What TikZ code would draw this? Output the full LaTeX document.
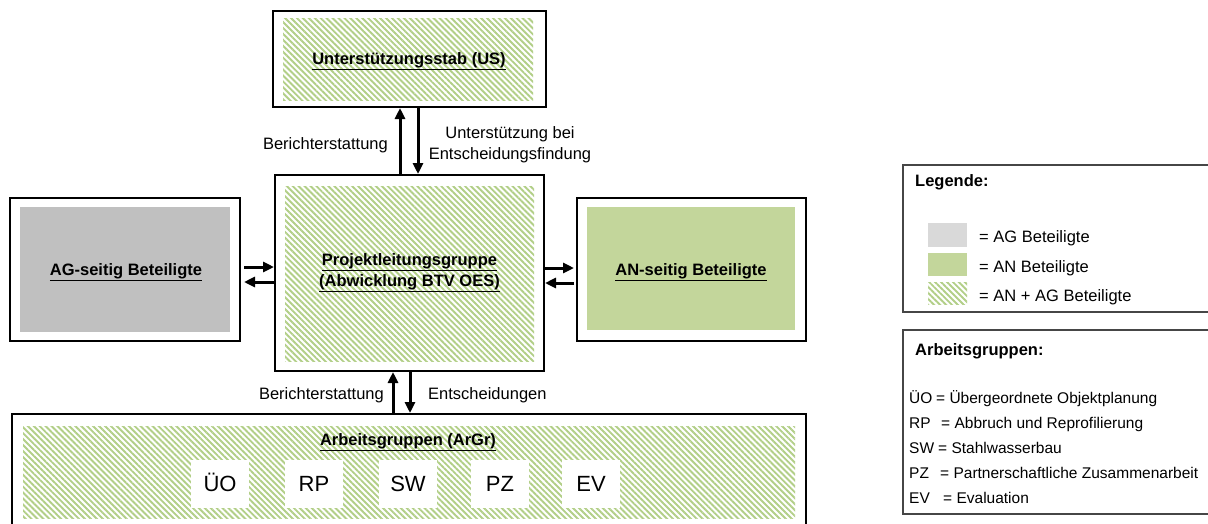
\documentclass[tikz,border=0pt]{standalone}
\usepackage{fontspec}
\setmainfont{Liberation Sans}
\usetikzlibrary{patterns.meta,arrows.meta,calc}
\definecolor{hatchgreen}{RGB}{178,207,135}
\definecolor{solidgreen}{RGB}{195,214,155}
\definecolor{aggrey}{RGB}{192,192,192}
\definecolor{leggrey}{RGB}{217,217,217}
\definecolor{legline}{RGB}{70,70,70}
\tikzset{
  outerbox/.style={draw=black, line width=2pt, fill=white, inner sep=0pt},
  hatchbox/.style={pattern={Lines[angle=-45,distance=4.2pt,line width=1.9pt]}, pattern color=hatchgreen, inner sep=0pt},
  greybox/.style={fill=aggrey, inner sep=0pt},
  greenbox/.style={fill=solidgreen, inner sep=0pt},
  legbox/.style={draw=legline, line width=1.3pt, fill=white, inner sep=0pt},
  whitebox/.style={fill=white, inner sep=0pt, minimum width=58pt, minimum height=48pt, text height=15.8pt, text depth=0pt, font=\fontsize{22}{26}\selectfont},
  title/.style={font=\fontsize{16.5}{21}\selectfont\bfseries, align=center, inner sep=0pt},
  lbl/.style={font=\fontsize{16.5}{21}\selectfont, align=center, inner sep=0pt},
  slbl/.style={font=\fontsize{15.5}{19}\selectfont, inner sep=0pt, text height=11.1pt, text depth=0pt},
  arr/.style={line width=3pt, -{Triangle[length=11pt,width=10pt]}},
}
\begin{document}
\begin{tikzpicture}[x=1pt,y=-1pt]
\useasboundingbox (0,0) rectangle (1208,523);
% Unterstuetzungsstab
\node[outerbox, minimum width=273pt, minimum height=96pt] (us) at (409.5,59) {};
\node[hatchbox, minimum width=250pt, minimum height=82pt] (usin) at (408,59) {};
\node[title] (ust) at (409,61) {\underline{Unterst\"utzungsstab (US)}};
% Projektleitungsgruppe
\node[outerbox, minimum width=269pt, minimum height=196pt] (cen) at (409.5,273) {};
\node[hatchbox, minimum width=249pt, minimum height=175pt] (cenin) at (409.5,273.5) {};
\node[title] (cent) at (409.5,273) {\underline{Projektleitungsgruppe}\\\underline{(Abwicklung BTV OES)}};
% AG
\node[outerbox, minimum width=230pt, minimum height=143pt] (ag) at (125,269.5) {};
\node[greybox, minimum width=210pt, minimum height=125pt] (agin) at (125,269.5) {};
\node[title] (agt) at (126,272) {\underline{AG-seitig Beteiligte}};
% AN
\node[outerbox, minimum width=229pt, minimum height=143pt] (an) at (691.5,269.5) {};
\node[greenbox, minimum width=208pt, minimum height=123pt] (anin) at (691,268.5) {};
\node[title] (ant) at (691,272) {\underline{AN-seitig Beteiligte}};
% Arbeitsgruppen
\node[outerbox, minimum width=794pt, minimum height=116pt] (ar) at (409,472) {};
\node[hatchbox, minimum width=772pt, minimum height=92pt] (arin) at (409,472) {};
\node[title] (art) at (408,442) {\underline{Arbeitsgruppen (ArGr)}};
\node[whitebox] (uo) at (220,484) {\"UO};
\node[whitebox] (rp) at (314,484) {RP};
\node[whitebox] (sw) at (408,484) {SW};
\node[whitebox] (pz) at (500,484) {PZ};
\node[whitebox] (ev) at (591,484) {EV};
% arrows US <-> center
\draw[arr] ([xshift=-9.5pt]cen.north) -- ([xshift=-9.5pt]us.south);
\draw[arr] ([xshift=8.5pt]us.south) -- ([xshift=8.5pt]cen.north);
\node[lbl, anchor=east] (l1) at (388,145) {Berichterstattung};
\node[lbl] (l2) at (510,145) {Unterst\"utzung bei\\Entscheidungsfindung};
% arrows AG <-> center
\coordinate (r1) at ([yshift=6pt]cen.west);
\coordinate (r2) at ([yshift=-9pt]cen.west);
\draw[arr, shorten <=3pt] (ag.east |- r1) -- (r1);
\draw[arr, shorten >=3pt] (r2) -- (ag.east |- r2);
% arrows center <-> AN
\coordinate (s1) at ([yshift=5pt]cen.east);
\coordinate (s2) at ([yshift=-10pt]cen.east);
\draw[arr, shorten >=2pt] (s1) -- (an.west |- s1);
\draw[arr, shorten <=2pt] (an.west |- s2) -- (s2);
% arrows center <-> Arbeitsgruppen
\draw[arr] ([xshift=-16pt]ar.north) -- ([xshift=-16.5pt]cen.south);
\draw[arr] ([xshift=0.5pt]cen.south) -- ([xshift=1pt]ar.north);
\node[lbl, anchor=east] (l3) at (384,395) {Berichterstattung};
\node[lbl, anchor=west] (l4) at (428,395) {Entscheidungen};
% Legende
\node[legbox, minimum width=312pt, minimum height=147pt] (leg) at (1059,238.5) {};
\node[title, anchor=west] (legt) at (915,182) {Legende:};
\node[fill=leggrey, inner sep=0pt, minimum width=39pt, minimum height=24pt] (sw1) at (947.5,235) {};
\node[greenbox, minimum width=39pt, minimum height=23pt] (sw2) at (947.5,264.5) {};
\node[hatchbox, minimum width=39pt, minimum height=22pt] (sw3) at (947.5,293) {};
\node[lbl, anchor=west] (lg1) at (979,238) {= AG Beteiligte};
\node[lbl, anchor=west] (lg2) at (979,268) {= AN Beteiligte};
\node[lbl, anchor=west] (lg3) at (979,297) {= AN + AG Beteiligte};
% Arbeitsgruppen legend
\node[legbox, minimum width=312pt, minimum height=184pt] (leg2) at (1059,422) {};
\node[title, anchor=west] (leg2t) at (915,351) {Arbeitsgruppen:};
\node[slbl, anchor=west] (a1) at (909,398) {\"UO};
\node[slbl, anchor=west] (a2) at (909,423) {RP};
\node[slbl, anchor=west] (a3) at (909,448) {SW};
\node[slbl, anchor=west] (a4) at (909,473) {PZ};
\node[slbl, anchor=west] (a5) at (909,498) {EV};
\node[slbl, anchor=west] (b1) at (936,398) {= \"Ubergeordnete Objektplanung};
\node[slbl, anchor=west] (b2) at (941,423) {= Abbruch und Reprofilierung};
\node[slbl, anchor=west] (b3) at (938,448) {= Stahlwasserbau};
\node[slbl, anchor=west] (b4) at (940,473) {= Partnerschaftliche Zusammenarbeit};
\node[slbl, anchor=west] (b5) at (943,498) {= Evaluation};
\end{tikzpicture}
\end{document}
